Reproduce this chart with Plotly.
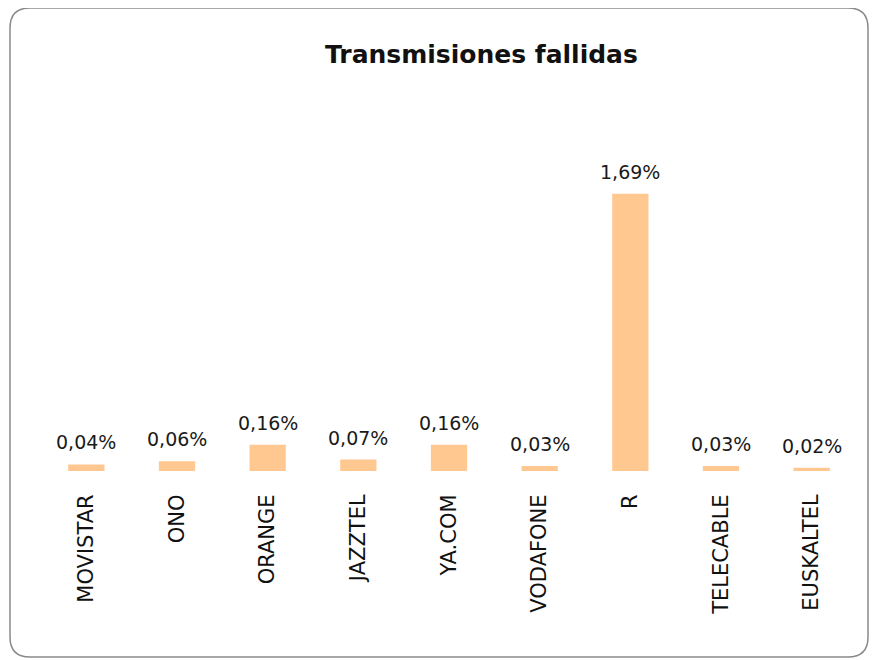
import plotly.graph_objects as go

categories = ["MOVISTAR", "ONO", "ORANGE", "JAZZTEL", "YA.COM", "VODAFONE", "R", "TELECABLE", "EUSKALTEL"]
values = [0.04, 0.06, 0.16, 0.07, 0.16, 0.03, 1.69, 0.03, 0.02]
labels = ["0,04%", "0,06%", "0,16%", "0,07%", "0,16%", "0,03%", "1,69%", "0,03%", "0,02%"]

FONT = "DejaVu Sans, Verdana, sans-serif"

fig = go.Figure(go.Bar(
    x=categories, y=values,
    marker=dict(color="#FFC891", line=dict(width=0)),
    width=0.4,
))

# page offset of 8px (body margin) taken into account
L, R, T, B = 33, 29, 135, 197
W, H = 878 - L - R, 660 - T - B

def px2paper(x, y):
    return (x - L) / W, (660 - B - y) / H

x0, y0 = 2, 0
x1, y1 = 860, 649
r = 20
rx, ry = r / W, r / H
ax0, ay0 = px2paper(x0, y0)
ax1, ay1 = px2paper(x1, y1)
path = (f"M {ax0+rx},{ay0} L {ax1-rx},{ay0} Q {ax1},{ay0} {ax1},{ay0-ry} "
        f"L {ax1},{ay1+ry} Q {ax1},{ay1} {ax1-rx},{ay1} L {ax0+rx},{ay1} "
        f"Q {ax0},{ay1} {ax0},{ay1+ry} L {ax0},{ay0-ry} Q {ax0},{ay0} {ax0+rx},{ay0} Z")

tx, ty = px2paper(473, 46)

annotations = [dict(text="<b>Transmisiones fallidas</b>", x=tx, y=ty, xref="paper", yref="paper",
                    showarrow=False, font=dict(size=25, family=FONT, color="#111"),
                    xanchor="center", yanchor="middle")]
for c, v, t in zip(categories, values, labels):
    annotations.append(dict(text=t, x=c, y=v, xref="x", yref="y", showarrow=False,
                            yanchor="bottom", yshift=9,
                            font=dict(size=19, family=FONT, color="#1a1a1a")))

fig.update_layout(
    width=878, height=660,
    margin=dict(l=L, r=R, t=T, b=B),
    paper_bgcolor="white", plot_bgcolor="white",
    showlegend=False,
    font=dict(family=FONT, color="#111"),
    shapes=[dict(type="path", xref="paper", yref="paper", path=path,
                 line=dict(color="#8a8a8a", width=1.5), fillcolor="rgba(0,0,0,0)", layer="below")],
    annotations=annotations,
    xaxis=dict(tickangle=-90, ticks="outside", ticklen=14, tickcolor="rgba(0,0,0,0)",
               tickfont=dict(size=21, family=FONT, color="#111"),
               showline=False, showgrid=False, zeroline=False),
    yaxis=dict(range=[0, 2.0], visible=False, showgrid=False, zeroline=False),
)

fig.write_html("out.html")
